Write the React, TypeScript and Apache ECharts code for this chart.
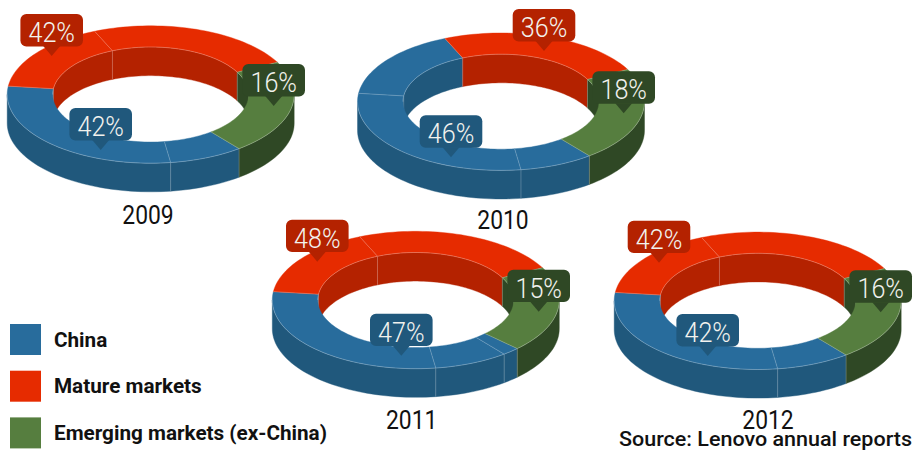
import React, { useEffect, useRef } from "react";
import * as echarts from "echarts";

const years = ["2009", "2010", "2011", "2012"];
const marketNames = ["China", "Mature markets", "Emerging markets (ex-China)"];

// Printed shares
const chinaLabels = [42, 46, 47, 42];
const matureLabels = [42, 36, 48, 42];
const emergingLabels = [16, 18, 15, 16];

// Drawn slice sweeps in degrees (the picture's pieces; each ring sums to 360)
const chinaSweeps = [[30, 105], [30, 105, 60], [7, 30, 105], [30, 105]];
const matureSweeps = [[60, 85], [85], [60, 85], [60, 85]];
const emergingSweeps = [[80], [80], [73], [80]];

const START_ANGLE = 332;

// Layout
const RX = 143.5, RY = 68.7, IRX = 98, IRY = 47.5, DEPTH = 28.6;
const ringCentres = [[150.7, 94.5], [501, 101.7], [415.8, 300], [757.7, 300.8]];
const yearLabelPos = [[148, 215], [503, 220], [411.7, 420], [768, 420]];
// pin tip offsets from ring centre, per year: [china, mature, emerging]
const pinTips = [
  [[-50, 55.5], [-99, -38.5], [123, 11.5]],
  [[-50, 55.6], [43, -50.7], [122.7, 11.6]],
  [[-14.5, 55.7], [-98.5, -38.3], [122.9, 11.7]],
  [[-50, 55.2], [-98.7, -38.1], [123, 11.5]],
];

const topColors = ["#286C9C", "#E62B00", "#567E3F"];
const darkColors = ["#20587C", "#B42200", "#2F4825"];
const pinColors = ["#20587C", "#B42200", "#2F4825"];

type Row = { kind: "piece" | "pin"; year: number; a0?: number; a1?: number; value?: number };

const sweepsByMarket = [chinaSweeps, matureSweeps, emergingSweeps];
const labelsByMarket = [chinaLabels, matureLabels, emergingLabels];

function buildRows(market: number): Row[] {
  const rows: Row[] = [];
  years.forEach((_, y) => {
    // ring order, clockwise from START_ANGLE: emerging, china, mature
    let a = START_ANGLE;
    for (const m of [2, 0, 1]) {
      for (const sw of sweepsByMarket[m][y]) {
        if (m === market) rows.push({ kind: "piece", year: y, a0: a, a1: a + sw });
        a += sw;
      }
    }
    rows.push({ kind: "pin", year: y, value: labelsByMarket[market][y] });
  });
  return rows;
}

const rad = (d: number) => (d * Math.PI) / 180;

function arc(cx: number, cy: number, rx: number, ry: number, a0: number, a1: number, dy = 0) {
  const n = Math.max(2, Math.ceil(Math.abs(a1 - a0) / 2));
  const pts: number[][] = [];
  for (let i = 0; i <= n; i++) {
    const t = rad(a0 + ((a1 - a0) * i) / n);
    pts.push([cx + rx * Math.cos(t), cy + ry * Math.sin(t) + dy]);
  }
  return pts;
}

// intersection of [a0,a1] with [lo,hi] modulo 360
function clip(a0: number, a1: number, lo: number, hi: number) {
  const out: number[][] = [];
  for (const k of [-360, 0, 360]) {
    const s = Math.max(a0, lo + k), e = Math.min(a1, hi + k);
    if (e > s) out.push([s, e]);
  }
  return out;
}

const EDGE = "rgba(255,255,255,0.38)";

function makeSeries(market: number) {
  const rows = buildRows(market);
  return {
    type: "custom",
    name: marketNames[market],
    coordinateSystem: "none",
    silent: true,
    itemStyle: { color: topColors[market] },
    data: rows.map((r, i) => [i]),
    renderItem: (params: any) => {
      const r = rows[params.dataIndex];
      const [cx, cy] = ringCentres[r.year];
      const children: any[] = [];
      if (r.kind === "piece") {
        const a0 = r.a0 as number, a1 = r.a1 as number;
        const dark = darkColors[market], top = topColors[market];
        // inner wall: far half of the hole
        for (const [s, e] of clip(a0, a1, 180, 360)) {
          const up = arc(cx, cy, IRX, IRY, s, e);
          const low = arc(cx, cy, IRX, IRY, e, s, DEPTH);
          children.push({
            type: "polygon", z2: 1,
            shape: { points: up.concat(low) },
            style: { fill: dark, stroke: dark, lineWidth: 0.4 },
          });
        }
        // outer wall: near half
        for (const [s, e] of clip(a0, a1, 0, 180)) {
          const up = arc(cx, cy, RX, RY, s, e);
          const low = arc(cx, cy, RX, RY, e, s, DEPTH);
          children.push({
            type: "polygon", z2: 1,
            shape: { points: up.concat(low) },
            style: { fill: dark, stroke: dark, lineWidth: 0.4 },
          });
        }
        // wall dividers at the piece's start
        const st = ((a0 % 360) + 360) % 360;
        if (st > 0 && st < 180) {
          const p = arc(cx, cy, RX, RY, st, st + 1)[0];
          children.push({
            type: "line", z2: 2,
            shape: { x1: p[0], y1: p[1], x2: p[0], y2: p[1] + DEPTH },
            style: { stroke: EDGE, lineWidth: 0.6 },
          });
        } else if (st > 180) {
          const p = arc(cx, cy, IRX, IRY, st, st + 1)[0];
          children.push({
            type: "line", z2: 2,
            shape: { x1: p[0], y1: p[1], x2: p[0], y2: p[1] + DEPTH },
            style: { stroke: EDGE, lineWidth: 0.6 },
          });
        }
        // top face
        const outer = arc(cx, cy, RX, RY, a0, a1);
        const inner = arc(cx, cy, IRX, IRY, a1, a0);
        children.push({
          type: "polygon", z2: 3,
          shape: { points: outer.concat(inner) },
          style: { fill: top, stroke: top, lineWidth: 0.4 },
        });
        // light edges: near rim, far hole rim, and the piece's start divider
        for (const [s, e] of clip(a0, a1, 0, 180)) {
          children.push({
            type: "polyline", z2: 4,
            shape: { points: arc(cx, cy, RX, RY, s, e) },
            style: { stroke: EDGE, lineWidth: 0.7, fill: "none" },
          });
        }
        for (const [s, e] of clip(a0, a1, 180, 360)) {
          children.push({
            type: "polyline", z2: 4,
            shape: { points: arc(cx, cy, IRX, IRY, s, e) },
            style: { stroke: EDGE, lineWidth: 0.7, fill: "none" },
          });
        }
        const po = arc(cx, cy, RX, RY, a0, a0 + 1)[0];
        const pi = arc(cx, cy, IRX, IRY, a0, a0 + 1)[0];
        children.push({
          type: "line", z2: 4,
          shape: { x1: po[0], y1: po[1], x2: pi[0], y2: pi[1] },
          style: { stroke: EDGE, lineWidth: 0.6 },
        });
      } else {
        const [dx, dy] = pinTips[r.year][market];
        const tx = cx + dx, ty = cy + dy;
        children.push({
          type: "rect", z2: 10,
          shape: { x: tx - 31.3, y: ty - 42, width: 62.6, height: 32.4, r: 6 },
          style: { fill: pinColors[market] },
        });
        children.push({
          type: "polygon", z2: 10,
          shape: { points: [[tx - 8.5, ty - 10], [tx + 8.5, ty - 10], [tx, ty]] },
          style: { fill: pinColors[market] },
        });
        children.push({
          type: "text", z2: 11,
          x: tx, y: ty - 23.5,
          scaleX: 0.9,
          style: {
            text: r.value + "%",
            x: 0, y: 0,
            fill: "#F2F2EE",
            font: "300 28px Roboto",
            align: "center",
            verticalAlign: "middle",
          },
        });
      }
      return { type: "group", children };
    },
  };
}

export default function App() {
  const ref = useRef<HTMLDivElement>(null);
  useEffect(() => {
    const chart = echarts.init(ref.current as HTMLDivElement, undefined, { renderer: "svg" });
    chart.setOption({
      animation: false,
      backgroundColor: "#ffffff",
      tooltip: { show: false },
      legend: {
        show: true,
        orient: "vertical",
        left: 10,
        top: 324,
        padding: 0,
        itemWidth: 31,
        itemHeight: 31,
        itemGap: 15.7,
        icon: "rect",
        selectedMode: false,
        data: marketNames,
        textStyle: {
          fontFamily: "Roboto",
          fontWeight: 700,
          fontSize: 20.7,
          color: "#111111",
          padding: [0, 0, 0, 8],
        },
      },
      graphic: [
        ...years.map((y, i) => ({
          type: "text",
          x: yearLabelPos[i][0],
          y: yearLabelPos[i][1],
          scaleX: 0.88,
          style: {
            text: y,
            fill: "#111111",
            font: "400 26px Roboto",
            align: "center",
            verticalAlign: "middle",
          },
        })),
        {
          type: "text",
          x: 912,
          y: 439,
          scaleX: 1.05,
          style: {
            text: "Source: Lenovo annual reports",
            fill: "#111111",
            font: "500 20.5px Roboto",
            align: "right",
            verticalAlign: "middle",
          },
        },
      ],
      series: [makeSeries(0), makeSeries(1), makeSeries(2)],
    });
    return () => chart.dispose();
  }, []);
  return (
    <div
      ref={ref}
      style={{ position: "absolute", left: 0, top: 0, width: 913, height: 450 }}
    />
  );
}
